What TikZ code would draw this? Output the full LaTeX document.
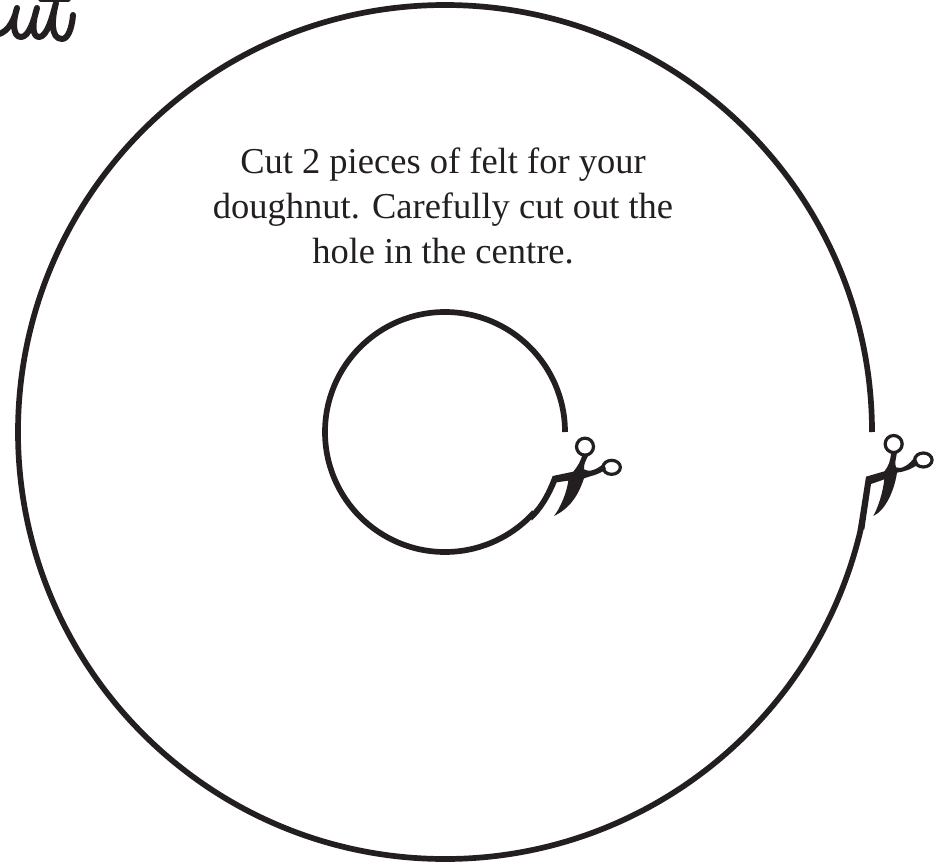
\documentclass[tikz,border=0pt]{standalone}
\usepackage{fontspec}
\setmainfont{Liberation Serif}
\definecolor{ink}{HTML}{231F20}
\tikzset{
  ring/.style={draw=ink,line width=5.7pt,line cap=butt},
  scis/.style={fill=ink,draw=none},
  fingerhole/.style={draw=ink,line width=3.2pt,fill=none},
  script/.style={draw=ink,line width=6pt,line cap=round,line join=round},
  caption/.style={text=ink,font=\fontsize{36.5}{45}\selectfont,align=center,inner sep=0pt}
}
\begin{document}
\begin{tikzpicture}[x=1pt,y=-1pt]
\useasboundingbox (0,0) rectangle (941,861);
\fill[white] (0,0) rectangle (941,861);
% arcs
\draw[ring] (872,432) arc[start angle=0,end angle=347.6,x radius=427pt,y radius=427pt];
\draw[ring] (565,432) arc[start angle=0,end angle=318,x radius=120pt,y radius=120pt];
% text
\node[caption] (txt) at (443,206) {Cut 2 pieces of felt for your\\doughnut. Carefully cut out the\\hole in the centre.};
% handwritten fragment
\begin{scope}
\clip (0,0) rectangle (100,60);
\draw[script] (-8,35) .. controls (6,36) and (14,22) .. (17,8) .. controls (13,20) and (12,37) .. (21,37) .. controls (29,37) and (34,20) .. (37,8) .. controls (33,20) and (31,37) .. (39,37) .. controls (47,37) and (52,18) .. (56,3) .. controls (52,18) and (50,39) .. (62,39) .. controls (68,39) and (72,28) .. (73,15);
\draw[script] (41,-1) -- (68,-1);
\end{scope}
% inner scissors
\begin{scope}[shift={(530,410)},x=0.3333pt,y=-0.3333pt]
\fill[scis] (0,312) .. controls (30,285) and (50,245) .. (68,198) -- (130,185) .. controls (142,170) and (152,155) .. (158,132) -- (174,138) .. controls (168,150) and (160,165) .. (162,178) .. controls (175,188) and (200,180) .. (222,160) -- (228,178) .. controls (205,195) and (180,198) .. (162,205) .. controls (150,240) and (130,290) .. (72,318) .. controls (90,295) and (110,250) .. (115,212) -- (80,217) .. controls (60,265) and (35,305) .. (5,332) -- cycle;
\draw[fingerhole] (165,110) ellipse[x radius=8.5pt,y radius=8.5pt];
\draw[fingerhole] (245,172) ellipse[x radius=8.7pt,y radius=7pt];
\end{scope}
% outer scissors
\begin{scope}[shift={(841,410)},x=0.3333pt,y=-0.3333pt]
\fill[scis] (50,360) -- (75,200) -- (130,184) .. controls (142,170) and (150,150) .. (150,125) -- (168,128) .. controls (165,145) and (160,160) .. (165,172) .. controls (180,180) and (205,165) .. (222,140) -- (232,162) .. controls (212,178) and (190,185) .. (168,188) .. controls (160,240) and (135,300) .. (97,318) .. controls (112,290) and (125,250) .. (130,208) -- (90,222) -- (70,358) -- cycle;
\draw[fingerhole] (158,102) ellipse[x radius=8.5pt,y radius=8.5pt];
\draw[fingerhole] (247,150) ellipse[x radius=8.7pt,y radius=7pt];
\end{scope}
\end{tikzpicture}
\end{document}
